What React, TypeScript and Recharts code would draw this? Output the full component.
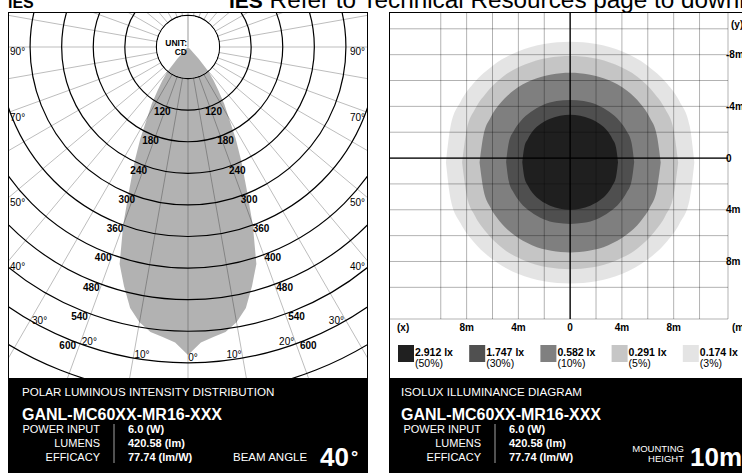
import React from "react";
import {
  RadarChart,
  Radar,
  PolarGrid,
  PolarAngleAxis,
  PolarRadiusAxis,
  ComposedChart,
  Area,
  XAxis,
  YAxis,
  CartesianGrid,
  ReferenceLine,
} from "recharts";

const FONT = '"Liberation Sans", Arial, Helvetica, sans-serif';

// ---- polar diagram: intensity (cd) against angle from nadir, one side of the symmetric beam
const BEAM_GAMMA = [
  0, 2.5, 5, 7.5, 10, 12.5, 15, 17.5, 20, 22.5, 25, 27.5, 30, 32.5, 35, 37.5, 40, 42.5, 45,
  47.5, 50, 52.5, 55, 57.5, 60, 62.5, 65, 67.5, 70, 72.5, 75, 77.5, 80, 82.5, 85, 87.5, 90,
];
const BEAM_CD = [
  585, 562, 553, 546, 531, 508, 470, 432, 360, 290, 240, 196, 155, 128, 100, 80, 60, 30, 6,
  0, 0, 0, 0, 0, 0, 0, 0, 0, 0, 0, 0, 0, 0, 0, 0, 0, 0,
];
const RING_CD = [60, 120, 180, 240, 300, 360, 420, 480, 540, 600, 660, 720];
const RING_LABELS = ["", "120", "180", "240", "300", "360", "400", "480", "540", "600", "", ""];
const ANGLE_LABELS = [0, 10, 20, 30, 40, 50, 70, 90];
const RADIAL_GRID = [
  0, 10, 20, 30, 40, 50, 60, 70, 80, 90, 100, 110, 120, 130, 140, 150, 160, 170,
  180, 190, 200, 210, 220, 230, 240, 250, 260, 270, 280, 290, 300, 310, 320, 330, 340, 350,
];

// ---- isolux diagram: each contour as x (m) with its upper and lower edge (m, +y is down)
const X_50 = [-3.7, -3.55, -3.25, -2.9, -2.3, -1.55, -0.78, 0, 0.78, 1.55, 2.3, 2.9, 3.25, 3.55, 3.7];
const TOP_50 = [0.32, -0.8, -1.52, -2.07, -2.63, -3.05, -3.28, -3.35, -3.28, -3.05, -2.63, -2.07, -1.52, -0.8, 0.32];
const BOT_50 = [0.32, 1.44, 2.16, 2.71, 3.27, 3.69, 3.92, 3.99, 3.92, 3.69, 3.27, 2.71, 2.16, 1.44, 0.32];

const X_30 = [-4.95, -4.75, -4.35, -3.85, -3.05, -2.1, -1.05, 0, 1.05, 2.1, 3.05, 3.85, 4.35, 4.75, 4.95];
const TOP_30 = [0.3, -1.16, -2.11, -2.83, -3.56, -4.11, -4.41, -4.5, -4.41, -4.11, -3.56, -2.83, -2.11, -1.16, 0.3];
const BOT_30 = [0.3, 1.76, 2.71, 3.43, 4.16, 4.71, 5.01, 5.1, 5.01, 4.71, 4.16, 3.43, 2.71, 1.76, 0.3];

const X_10 = [-7.0, -6.7, -6.15, -5.45, -4.35, -2.95, -1.45, 0, 1.45, 2.95, 4.35, 5.45, 6.15, 6.7, 7.0];
const TOP_10 = [0.35, -1.76, -3.14, -4.18, -5.24, -6.04, -6.47, -6.6, -6.47, -6.04, -5.24, -4.18, -3.14, -1.76, 0.35];
const BOT_10 = [0.35, 2.46, 3.84, 4.88, 5.94, 6.74, 7.17, 7.3, 7.17, 6.74, 5.94, 4.88, 3.84, 2.46, 0.35];

const X_5 = [-8.35, -8.0, -7.35, -6.5, -5.2, -3.5, -1.75, 0, 1.75, 3.5, 5.2, 6.5, 7.35, 8.0, 8.35];
const TOP_5 = [0.35, -2.16, -3.79, -5.02, -6.29, -7.24, -7.75, -7.9, -7.75, -7.24, -6.29, -5.02, -3.79, -2.16, 0.35];
const BOT_5 = [0.35, 2.86, 4.49, 5.72, 6.99, 7.94, 8.45, 8.6, 8.45, 7.94, 6.99, 5.72, 4.49, 2.86, 0.35];

const X_3 = [-9.6, -9.24, -8.47, -7.5, -5.96, -4.04, -2.02, 0, 2.02, 4.04, 5.96, 7.5, 8.47, 9.24, 9.6];
const TOP_3 = [0.35, -2.49, -4.35, -5.74, -7.17, -8.25, -8.83, -9.0, -8.83, -8.25, -7.17, -5.74, -4.35, -2.49, 0.35];
const BOT_3 = [0.35, 3.19, 5.05, 6.44, 7.87, 8.95, 9.53, 9.7, 9.53, 8.95, 7.87, 6.44, 5.05, 3.19, 0.35];

const LEVEL_LUX = ["2.912 lx", "1.747 lx", "0.582 lx", "0.291 lx", "0.174 lx"];
const LEVEL_PCT = ["(50%)", "(30%)", "(10%)", "(5%)", "(3%)"];
const LEVEL_GRAY = [32, 80, 128, 198, 228];

const GRID_M = [-10, -8, -6, -4, -2, 0, 2, 4, 6, 8, 10];
const X_TICK_TEXT = ["", "8m", "", "4m", "", "0", "", "4m", "", "8m", ""];
const Y_TICK_TEXT = ["", "-8m", "", "-4m", "", "0", "", "4m", "", "8m", ""];

const SPEC_LABELS = ["POWER INPUT", "LUMENS", "EFFICACY"];
const SPEC_VALUES = ["6.0 (W)", "420.58 (lm)", "77.74 (lm/W)"];

// ---- layout
const POLAR_W = 359;
const POLAR_H = 366;
const CX = 180;
const CY = 35;
const R_MAX = 379;
const DISC_R = (RING_CD[0] / 720) * R_MAX;

const beamTable = Array.from({ length: 144 }, (_, i) => {
  const a = i * 2.5;
  const gamma = a <= 180 ? a : a - 360;
  const k = BEAM_GAMMA.indexOf(Math.abs(gamma));
  return { gamma, cd: k >= 0 ? BEAM_CD[k] : 0 };
});

const levels = [
  { xs: X_3, top: TOP_3, bot: BOT_3, gray: LEVEL_GRAY[4], under: 255 },
  { xs: X_5, top: TOP_5, bot: BOT_5, gray: LEVEL_GRAY[3], under: LEVEL_GRAY[4] },
  { xs: X_10, top: TOP_10, bot: BOT_10, gray: LEVEL_GRAY[2], under: LEVEL_GRAY[3] },
  { xs: X_30, top: TOP_30, bot: BOT_30, gray: LEVEL_GRAY[1], under: LEVEL_GRAY[2] },
  { xs: X_50, top: TOP_50, bot: BOT_50, gray: LEVEL_GRAY[0], under: LEVEL_GRAY[1] },
].map((l) => ({
  data: l.xs.map((x, i) => ({ x, band: [l.top[i], l.bot[i]] })),
  opacity: 1 - l.gray / l.under,
}));

const txt = { fontFamily: FONT, fill: "#000" } as const;

function AngleTick(props: any) {
  const g = Number(props.payload?.value);
  const a = Math.abs(g);
  if (!ANGLE_LABELS.includes(a)) return <g />;
  const left = g > 0;
  let x = CX;
  let y = CY;
  let anchor: "middle" | "start" | "end" = "middle";
  if (a === 0) {
    x = CX + 5;
    y = CY + 310;
  } else if (a <= 30) {
    const t = ((a - 1.5) * Math.PI) / 180;
    x = CX + (left ? -1 : 1) * 311 * Math.sin(t);
    y = CY + 311 * Math.cos(t);
  } else {
    y = CY + CX / Math.tan((a * Math.PI) / 180) + 4.5;
    x = left ? 2 : POLAR_W - 2;
    anchor = left ? "start" : "end";
  }
  return (
    <text x={x} y={y} textAnchor={anchor} dominantBaseline="central" fontSize={10} {...txt}>
      {a}°
    </text>
  );
}

function RingTick(props: any) {
  const lab = RING_LABELS[RING_CD.indexOf(Number(props.payload?.value))];
  if (!lab) return <g />;
  const x = Number(props.x);
  const y = Number(props.y);
  return (
    <g>
      <text x={x - 2} y={y + 6} textAnchor="middle" dominantBaseline="central" fontSize={10} fontWeight="bold" {...txt}>
        {lab}
      </text>
      <text x={2 * CX - x + 2} y={y + 6} textAnchor="middle" dominantBaseline="central" fontSize={10} fontWeight="bold" {...txt}>
        {lab}
      </text>
    </g>
  );
}

function PolarPanel() {
  const chartProps = {
    width: POLAR_W,
    height: POLAR_H,
    data: beamTable,
    cx: CX,
    cy: CY,
    outerRadius: R_MAX,
    startAngle: -90,
    endAngle: -450,
    margin: { top: 0, right: 0, bottom: 0, left: 0 },
  };
  return (
    <div style={{ position: "absolute", left: 8, top: 12, width: POLAR_W + 1, height: POLAR_H, overflow: "hidden", background: "#fff" }}>
      <RadarChart {...chartProps}>
        <PolarGrid gridType="circle" polarRadius={[]} polarAngles={RADIAL_GRID} stroke="#000" strokeOpacity={0.38} strokeWidth={0.7} />
        <PolarGrid gridType="circle" radialLines={false} stroke="#000" strokeWidth={1.2} />
        <PolarAngleAxis dataKey="gamma" axisLine={false} tickLine={false} tick={AngleTick} />
        <PolarRadiusAxis type="number" angle={-112} domain={[0, 720]} ticks={RING_CD} axisLine={false} tickLine={false} tick={RingTick} />
        <Radar dataKey="cd" fill="#000" fillOpacity={0.3} stroke="none" isAnimationActive={false} />
      </RadarChart>

      {/* centre disc: white, no radial lines, beam only */}
      <div
        style={{
          position: "absolute",
          left: 0,
          top: 0,
          width: POLAR_W,
          height: POLAR_H,
          background: "#fff",
          clipPath: `circle(${DISC_R - 0.6}px at ${CX}px ${CY}px)`,
        }}
      >
        <RadarChart {...chartProps}>
          <PolarAngleAxis dataKey="gamma" axisLine={false} tickLine={false} tick={false} />
          <PolarRadiusAxis type="number" domain={[0, 720]} axisLine={false} tickLine={false} tick={false} />
          <Radar dataKey="cd" fill="#000" fillOpacity={0.3} stroke="none" isAnimationActive={false} />
        </RadarChart>
        <svg width={POLAR_W} height={POLAR_H} style={{ position: "absolute", left: 0, top: 0 }}>
          <line x1={CX} y1={CY - DISC_R} x2={CX} y2={CY} stroke="#000" strokeOpacity={0.5} strokeWidth={0.8} />
          <text x={CX - 1} y={CY - 1} textAnchor="end" fontSize={8.5} fontWeight="bold" {...txt}>
            UNIT:
          </text>
          <text x={CX - 1} y={CY + 8} textAnchor="end" fontSize={8.5} fontWeight="bold" {...txt}>
            CD
          </text>
        </svg>
      </div>
      <div style={{ position: "absolute", left: 0, top: 0, width: POLAR_W + 1, height: POLAR_H + 1, border: "1px solid #000", boxSizing: "border-box" }} />
    </div>
  );
}

function XTick(props: any) {
  const lab = X_TICK_TEXT[GRID_M.indexOf(Number(props.payload?.value))];
  if (!lab) return <g />;
  return (
    <text x={props.x} y={Number(props.y) + 8} textAnchor="middle" dominantBaseline="central" fontSize={10} fontWeight="bold" {...txt}>
      {lab}
    </text>
  );
}

function YTick(props: any) {
  const lab = Y_TICK_TEXT[GRID_M.indexOf(Number(props.payload?.value))];
  if (!lab) return <g />;
  return (
    <text x={Number(props.x) - 2} y={props.y} textAnchor="start" dominantBaseline="central" fontSize={10} fontWeight="bold" {...txt}>
      {lab}
    </text>
  );
}

function IsoluxPanel() {
  return (
    <div style={{ position: "absolute", left: 389, top: 12, width: 362, height: 366, overflow: "hidden", background: "#fff" }}>
      <ComposedChart width={362} height={330} margin={{ top: 0, right: 0, bottom: 0, left: 0 }}>
        <CartesianGrid stroke="#000" strokeOpacity={0.38} strokeWidth={0.8} />
        <XAxis
          xAxisId={0}
          type="number"
          dataKey="x"
          domain={[-14, 12.2]}
          allowDataOverflow
          ticks={GRID_M}
          interval={0}
          height={23}
          axisLine={false}
          tickLine={false}
          tickSize={0}
          tickMargin={0}
          tick={XTick}
        />
        <YAxis
          yAxisId={0}
          type="number"
          orientation="right"
          reversed
          domain={[-11.3, 12.45]}
          allowDataOverflow
          ticks={GRID_M}
          interval={0}
          width={23}
          axisLine={false}
          tickLine={false}
          tickSize={0}
          tickMargin={0}
          tick={YTick}
        />
        {levels.map((l, i) => (
          <Area
            key={i}
            data={l.data}
            dataKey="band"
            type="monotone"
            fill="#000"
            fillOpacity={l.opacity}
            stroke="none"
            isAnimationActive={false}
          />
        ))}
        <ReferenceLine x={0} stroke="#000" strokeWidth={1.3} />
        <ReferenceLine y={0} stroke="#000" strokeWidth={1.3} />
      </ComposedChart>
      <div style={{ position: "absolute", left: 0, top: 0, width: 400, height: 400, borderLeft: "1px solid #000", borderTop: "1px solid #000" }} />
    </div>
  );
}

function InfoBox({ x, title, pad }: { x: number; title: string; pad: number }) {
  return (
    <g>
      <rect x={x} y={378} width={360} height={100} fill="#000" />
      <text x={x + pad} y={396} fontSize={11.6} fill="#fff" fontFamily={FONT}>
        {title}
      </text>
      <text x={x + pad} y={420} fontSize={16} fontWeight="bold" fill="#fff" fontFamily={FONT}>
        GANL-MC60XX-MR16-XXX
      </text>
      {SPEC_LABELS.map((s, i) => (
        <text key={s} x={x + 92} y={433 + i * 14} fontSize={11} textAnchor="end" fill="#fff" fontFamily={FONT}>
          {s}
        </text>
      ))}
      <line x1={x + 106} y1={424} x2={x + 106} y2={463} stroke="#ccc" strokeWidth={0.8} />
      {SPEC_VALUES.map((s, i) => (
        <text key={s} x={x + 120} y={433 + i * 14} fontSize={11} fontWeight="bold" fill="#fff" fontFamily={FONT}>
          {s}
        </text>
      ))}
    </g>
  );
}

function Overlay() {
  return (
    <svg width={742} height={473} style={{ position: "absolute", left: 0, top: 0 }}>
      <text x={8} y={8} fontSize={16} fontWeight="bold" {...txt}>
        IES
      </text>
      <text x={229} y={8} fontSize={24.3} {...txt}>
        <tspan fontWeight="bold" fontSize={21}>IES</tspan> Refer to Technical Resources page to download
      </text>

      <InfoBox x={8} pad={14} title="POLAR LUMINOUS INTENSITY DISTRIBUTION" />
      <text x={233} y={461} fontSize={11.5} fill="#fff" fontFamily={FONT}>
        BEAM ANGLE
      </text>
      <text x={320} y={466} fontSize={26} fontWeight="bold" fill="#fff" fontFamily={FONT}>
        40
      </text>
      <text x={351} y={463} fontSize={18} fontWeight="bold" fill="#fff" fontFamily={FONT}>
        °
      </text>

      <InfoBox x={389} pad={12} title="ISOLUX ILLUMINANCE DIAGRAM" />
      <text x={684} y={452} fontSize={9.5} textAnchor="end" fill="#fff" fontFamily={FONT}>
        MOUNTING
      </text>
      <text x={684} y={462} fontSize={9.5} textAnchor="end" fill="#fff" fontFamily={FONT}>
        HEIGHT
      </text>
      <text x={690} y={466} fontSize={26} fontWeight="bold" fill="#fff" fontFamily={FONT}>
        10m
      </text>

      <text x={397} y={331} fontSize={10} fontWeight="bold" {...txt}>
        (x)
      </text>
      <text x={732} y={331} fontSize={10} fontWeight="bold" {...txt}>
        (m)
      </text>
      <text x={731} y={28} fontSize={10} fontWeight="bold" {...txt}>
        (y)
      </text>

      {LEVEL_LUX.map((lux, i) => {
        const lx = 398 + i * 71.2;
        const g = LEVEL_GRAY[i];
        return (
          <g key={lux}>
            <rect x={lx} y={345} width={16} height={17} fill={`rgb(${g},${g},${g})`} />
            <text x={lx + 17} y={355.5} fontSize={10.5} fontWeight="bold" {...txt}>
              {lux}
            </text>
            <text x={lx + 17} y={366.5} fontSize={10.5} {...txt}>
              {LEVEL_PCT[i]}
            </text>
          </g>
        );
      })}
    </svg>
  );
}

export default function App() {
  return (
    <div
      style={{
        position: "fixed",
        left: 0,
        top: 0,
        width: 742,
        height: 473,
        overflow: "hidden",
        background: "#fff",
        fontFamily: FONT,
      }}
    >
      <PolarPanel />
      <IsoluxPanel />
      <Overlay />
    </div>
  );
}
